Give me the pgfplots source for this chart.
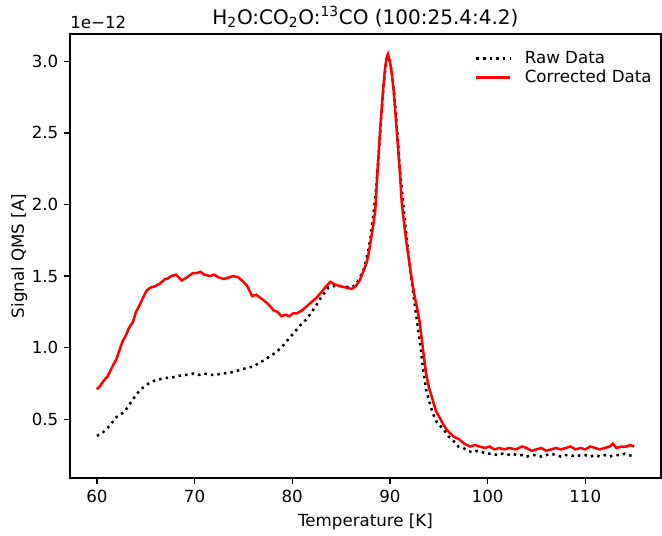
\documentclass[border=0pt]{standalone}
\usepackage{fontspec}
\setmainfont{DejaVu Sans}
\usepackage{pgfplots}
\pgfplotsset{compat=1.18}
\begin{document}
\fontsize{12}{14.4}\selectfont
\begin{tikzpicture}
\begin{axis}[
  scale only axis,
  width=425.5pt, height=319.7pt,
  xmin=57.25, xmax=117.75,
  ymin=0.09, ymax=3.19,
  xtick={60,70,80,90,100,110},
  ytick={0.5,1.0,1.5,2.0,2.5,3.0},
  yticklabels={0.5,1.0,1.5,2.0,2.5,3.0},
  /pgf/number format/assume math mode=true,
  tick pos=left,
  tick align=outside,
  major tick length=4.2pt,
  axis line style={line width=0.96pt},
  every tick/.style={black, line width=0.96pt},
  ticklabel style={font=\fontsize{12}{14.4}\selectfont},
  label style={font=\fontsize{12}{14.4}\selectfont},
  xlabel={Temperature [K]},
  ylabel={Signal QMS [A]},
  ylabel style={yshift=-5pt},
  title={H\textsubscript{2}O:CO\textsubscript{2}O:\textsuperscript{13}CO (100:25.4:4.2)},
  title style={font=\fontsize{14.4}{17}\selectfont, yshift=-5.5pt},
  legend style={draw=none, fill=none, at={(rel axis cs:0.994,0.975)}, anchor=north east,
    font=\fontsize{12}{14.4}\selectfont, row sep=-1pt, inner sep=2pt},
  legend cell align=left,
  legend image code/.code={\draw[#1] (0pt,0pt) -- (24pt,0pt); \path (32pt,0pt);},
]
\addplot[black, line width=1.8pt, dash pattern=on 1.8pt off 2.97pt] coordinates {
(60.0,0.385)(60.5,0.40)(61.1,0.44)(61.5,0.47)(61.9,0.51)(62.3,0.53)(62.8,0.55)(63.2,0.59)
(63.6,0.63)(64.0,0.67)(64.5,0.71)(64.9,0.73)(65.3,0.75)(65.9,0.77)(66.5,0.78)(67.0,0.79)
(67.6,0.79)(68.2,0.80)(68.8,0.81)(69.4,0.81)(69.9,0.82)(70.5,0.81)(71.0,0.82)(71.6,0.81)
(72.2,0.81)(72.8,0.82)(73.3,0.82)(73.9,0.83)(74.4,0.84)(74.9,0.85)(75.4,0.86)(76.1,0.87)
(76.7,0.90)(77.1,0.91)(77.7,0.94)(78.4,0.97)(79.0,1.01)(79.5,1.05)(80.0,1.09)(80.5,1.13)
(81.0,1.17)(81.5,1.20)(82.0,1.25)(82.3,1.28)(82.7,1.32)(83.0,1.36)(83.4,1.39)(83.7,1.42)
(84.2,1.43)(84.6,1.43)(85.2,1.43)(85.9,1.42)(86.3,1.43)(86.6,1.45)(87.0,1.50)(87.4,1.56)
(87.7,1.65)(88.0,1.76)(88.3,1.92)(88.6,2.12)(88.8,2.30)(89.0,2.50)(89.2,2.70)(89.4,2.87)
(89.6,2.98)(89.8,3.03)(90.0,3.00)(90.2,2.92)(90.4,2.80)(90.6,2.64)(90.8,2.46)(91.0,2.26)
(91.3,2.05)(91.6,1.84)(91.9,1.65)(92.2,1.48)(92.5,1.32)(92.8,1.17)(93.1,1.02)(93.4,0.85)
(93.7,0.71)(94.0,0.63)(94.4,0.54)(94.8,0.48)(95.2,0.45)(95.5,0.43)(96.0,0.38)(96.5,0.35)
(97.0,0.31)(97.5,0.30)(98.0,0.28)(98.4,0.27)(99.0,0.28)(99.5,0.27)(99.9,0.26)(100.5,0.26)
(101.0,0.25)(101.5,0.26)(102.0,0.25)(102.5,0.26)(103.0,0.25)(103.5,0.25)(104.0,0.24)(104.5,0.25)
(105.0,0.25)(105.5,0.24)(106.0,0.25)(106.5,0.26)(107.0,0.25)(107.5,0.24)(108.0,0.25)(108.5,0.25)
(109.0,0.24)(109.5,0.25)(110.0,0.25)(110.5,0.24)(111.0,0.25)(111.5,0.24)(112.0,0.25)(112.5,0.24)
(113.0,0.25)(113.5,0.25)(114.0,0.26)(114.5,0.25)(115.0,0.24)
};
\addlegendentry{Raw Data}
\addplot[red, line width=1.8pt] coordinates {
(60.0,0.71)(60.3,0.73)(60.7,0.77)(61.1,0.80)(61.6,0.87)(62.0,0.92)(62.3,0.98)(62.6,1.04)
(63.0,1.09)(63.3,1.14)(63.7,1.18)(64.0,1.25)(64.4,1.30)(64.8,1.36)(65.1,1.40)(65.5,1.42)
(66.0,1.43)(66.5,1.45)(67.0,1.48)(67.2,1.48)(67.6,1.50)(68.1,1.51)(68.4,1.49)(68.7,1.47)
(69.2,1.49)(69.8,1.52)(70.2,1.52)(70.6,1.53)(71.0,1.51)(71.6,1.50)(72.0,1.51)(72.5,1.49)
(73.0,1.48)(73.5,1.49)(74.0,1.50)(74.5,1.49)(75.0,1.46)(75.4,1.43)(75.9,1.36)(76.3,1.37)
(76.7,1.35)(77.1,1.33)(77.6,1.30)(78.1,1.26)(78.5,1.25)(78.9,1.22)(79.3,1.23)(79.7,1.22)
(80.1,1.24)(80.5,1.24)(81.0,1.26)(81.5,1.29)(82.0,1.32)(82.5,1.35)(83.0,1.39)(83.5,1.43)
(83.9,1.46)(84.4,1.44)(84.9,1.43)(85.5,1.42)(86.1,1.41)(86.5,1.43)(86.9,1.47)(87.2,1.52)
(87.6,1.59)(87.8,1.65)(88.0,1.73)(88.3,1.86)(88.5,1.96)(88.7,2.20)(88.9,2.42)(89.1,2.62)
(89.3,2.80)(89.5,2.95)(89.65,3.02)(89.8,3.05)(90.0,3.00)(90.2,2.91)(90.4,2.78)(90.6,2.60)
(90.8,2.42)(91.0,2.24)(91.2,2.02)(91.5,1.84)(91.7,1.73)(92.0,1.59)(92.2,1.49)(92.55,1.35)
(92.8,1.27)(93.06,1.17)(93.4,0.98)(93.7,0.82)(94.0,0.72)(94.4,0.63)(94.7,0.56)(95.1,0.51)
(95.5,0.46)(95.9,0.42)(96.5,0.38)(97.1,0.36)(97.6,0.33)(98.2,0.31)(98.7,0.32)
(99.2,0.31)(99.7,0.30)(100.2,0.31)(100.7,0.29)(101.2,0.30)(101.7,0.29)(102.2,0.30)(102.9,0.29)
(103.5,0.31)(104.0,0.30)(104.5,0.28)(105.0,0.29)(105.5,0.30)(106.0,0.28)(106.5,0.29)(107.0,0.30)
(107.5,0.29)(108.0,0.30)(108.5,0.31)(109.0,0.29)(109.5,0.30)(110.0,0.29)(110.5,0.31)(111.0,0.30)
(111.5,0.29)(112.0,0.30)(112.5,0.31)(112.8,0.33)(113.2,0.30)(113.7,0.31)(114.2,0.31)(114.6,0.32)
(115.0,0.31)
};
\addlegendentry{Corrected Data}
\coordinate (bl) at (rel axis cs:0,0);
\coordinate (tr) at (rel axis cs:1,1);
\end{axis}
\node[anchor=south west, inner sep=0pt, yshift=3.5pt] at (bl|-tr) {1e−12};
\pgfresetboundingbox
\path[use as bounding box] ([shift={(-50.4pt,-41.04pt)}]bl) rectangle ([shift={(0.72pt,24.48pt)}]tr);
\end{tikzpicture}
\end{document}
